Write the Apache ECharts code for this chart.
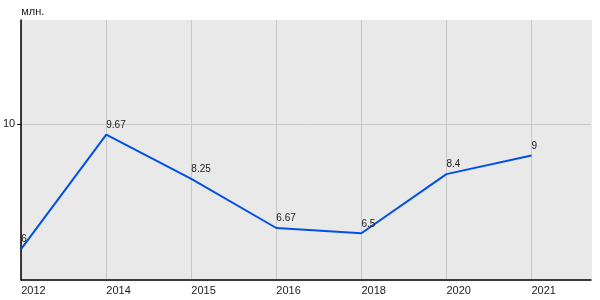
<!DOCTYPE html>
<html><head><meta charset="utf-8">
<script src="https://cdn.jsdelivr.net/npm/echarts@6/dist/echarts.min.js"></script>
<style>html,body{margin:0;padding:0;background:#fff}#c{width:600px;height:300px}</style>
</head><body><div id="c"></div>
<script>
var categories = ['2012','2014','2015','2016','2018','2020','2021'];
var values = [6, 9.67, 8.25, 6.67, 6.5, 8.4, 9];
var yTickLabels = [10];
var yUnit = 'млн.';

var chart = echarts.init(document.getElementById('c'), null, {renderer:'canvas'});
var font = 'Liberation Sans, Arial, sans-serif';
chart.setOption({
  animation: false,
  grid: {left: 20, right: 9, top: 20, bottom: 20, show: true, backgroundColor: '#e9e9e9', borderWidth: 0},
  xAxis: {
    type: 'value', min: 0, max: 6.7, interval: 1,
    axisLine: {show: true, onZero: false, lineStyle: {color: '#000', width: 1.5}},
    axisTick: {show: false},
    splitLine: {show: true, lineStyle: {color: ['#c8c8c8','#c8c8c8','#c8c8c8','#c8c8c8','#c8c8c8','#c8c8c8','#c8c8c8','#e9e9e9'], width: 1}},
    axisLabel: {
      color: '#222', fontFamily: font, fontSize: 11, align: 'left', margin: 5,
      showMaxLabel: false,
      formatter: function (v) { return (Math.abs(v - Math.round(v)) < 1e-6 && categories[Math.round(v)]) ? categories[Math.round(v)] : ''; }
    }
  },
  yAxis: {
    type: 'value', min: 5, max: 13.35, interval: 5,
    name: yUnit, nameLocation: 'end', nameGap: 8,
    nameTextStyle: {color: '#222', fontFamily: font, fontSize: 11, align: 'left', verticalAlign: 'middle'},
    axisLine: {show: true, lineStyle: {color: '#000', width: 1.5}},
    axisTick: {show: true, length: 4, lineStyle: {color: '#000'}},
    splitLine: {show: true, lineStyle: {color: ['#e9e9e9','#c8c8c8','#e9e9e9'], width: 1}},
    axisLabel: {
      color: '#222', fontFamily: font, fontSize: 11, margin: 6, showMaxLabel: false, showMinLabel: false,
      padding: [0, 0, 5, 0],
      formatter: function (v) { return yTickLabels.indexOf(v) >= 0 ? String(v) : ''; }
    }
  },
  series: [{
    type: 'line',
    data: values.map(function (v, i) { return [i, v]; }),
    symbol: 'circle', symbolSize: 1,
    itemStyle: {color: 'transparent'},
    lineStyle: {color: '#0050e6', width: 2},
    label: {
      show: true, position: 'top', align: 'left', distance: 4,
      color: '#222', fontFamily: font, fontSize: 10,
      formatter: function (p) { return String(p.value[1]); }
    }
  }]
});
</script></body></html>
